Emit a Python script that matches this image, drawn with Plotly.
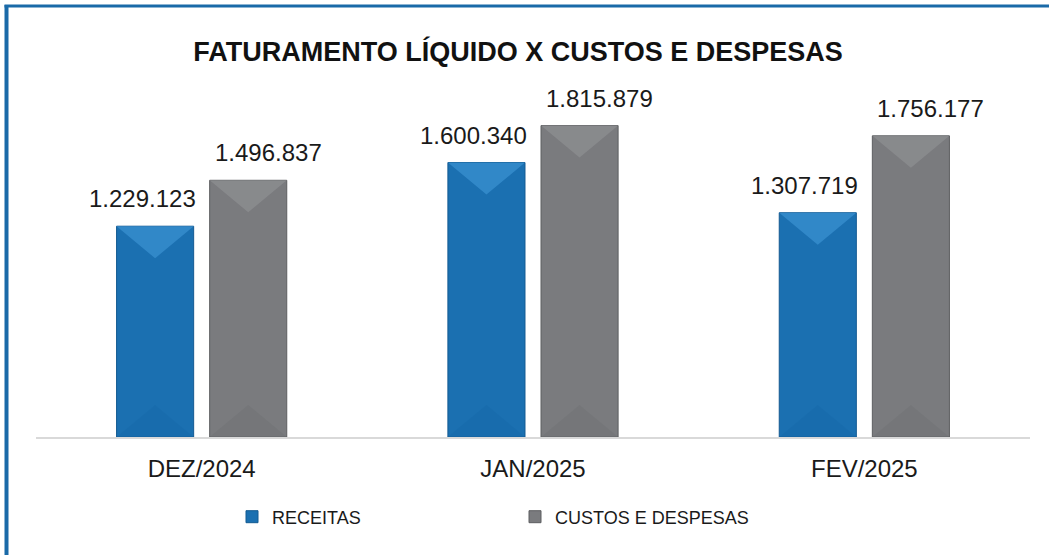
import plotly.graph_objects as go

categories = ["DEZ/2024", "JAN/2025", "FEV/2025"]
receitas = [1229123, 1600340, 1307719]
custos = [1496837, 1815879, 1756177]
series_names = ["RECEITAS", "CUSTOS E DESPESAS"]

W, H = 1049, 555
L, R, T, B = 36, 19, 94, 118
Y_MAX = 2000000
FONT = "Liberation Sans, Arial, sans-serif"

pw = W - L - R
ph = H - T - B

BARGAP = 0.438
GROUPGAP = 0.172

series = [
    dict(name=series_names[0], values=receitas, body="#1b70b1", line="#135a92",
         top="#3a90d0", bottom="#1668a8", label_shift=-13),
    dict(name=series_names[1], values=custos, body="#7a7b7e", line="#5d5e61",
         top="#8e8f92", bottom="#6f7073", label_shift=20),
]

fig = go.Figure()
for s in series:
    fig.add_trace(go.Bar(
        x=categories, y=s["values"], name=s["name"],
        marker=dict(color=s["body"], line=dict(color=s["line"], width=1)),
        hoverinfo="x+y",
    ))

n_series = len(series)
slot = (1 - BARGAP) / n_series
bar_w = slot * (1 - GROUPGAP)
unit_per_px = Y_MAX / ph
depth = 32 * unit_per_px

shapes = []
annotations = []
for si, s in enumerate(series):
    off = -(1 - BARGAP) / 2 + slot * (si + 0.5)
    for ci, v in enumerate(s["values"]):
        c = ci + off
        xl, xr = c - bar_w / 2, c + bar_w / 2
        d = min(depth, v / 2)
        shapes.append(dict(
            type="path", xref="x", yref="y", layer="above",
            path=f"M {xl},{v} L {xr},{v} L {c},{v - d} Z",
            fillcolor=s["top"], line=dict(width=0), opacity=0.75,
        ))
        shapes.append(dict(
            type="path", xref="x", yref="y", layer="above",
            path=f"M {xl},0 L {xr},0 L {c},{d} Z",
            fillcolor=s["bottom"], line=dict(width=0), opacity=0.45,
        ))
        label = f"{v:,}".replace(",", ".")
        annotations.append(dict(
            x=categories[ci], y=v, xref="x", yref="y",
            text=label, showarrow=False,
            xshift=off * pw / len(categories) + s["label_shift"],
            yshift=12, yanchor="bottom",
            font=dict(family=FONT, size=24, color="#1a1a1a"),
        ))

def px_x(p):
    return (p - L) / pw

def px_y(p):
    return (H - B - p) / ph

# blue frame (left and top edges)
shapes.append(dict(type="line", xref="paper", yref="paper",
                   x0=px_x(6.5), x1=px_x(6.5), y0=px_y(5), y1=px_y(H + 5),
                   line=dict(color="#1a6aa8", width=4)))
shapes.append(dict(type="line", xref="paper", yref="paper",
                   x0=px_x(4.5), x1=px_x(W + 5), y0=px_y(6), y1=px_y(6),
                   line=dict(color="#1a6aa8", width=3)))

fig.update_layout(
    width=W, height=H,
    margin=dict(l=L, r=R, t=T, b=B, pad=0),
    paper_bgcolor="white", plot_bgcolor="white",
    separators=",.",
    barmode="group", bargap=BARGAP, bargroupgap=GROUPGAP,
    title=dict(
        text="<b>FATURAMENTO LÍQUIDO X CUSTOS E DESPESAS</b>",
        font=dict(family=FONT, size=27, color="#111111"),
        x=518 / W, xanchor="center", xref="container",
        y=1 - 52 / H, yanchor="middle", yref="container",
    ),
    xaxis=dict(
        showline=True, linecolor="#d9d9d9", linewidth=2,
        ticks="", showgrid=False, ticklabelstandoff=9,
        tickfont=dict(family=FONT, size=24, color="#1a1a1a"),
    ),
    yaxis=dict(range=[0, Y_MAX], visible=False, showgrid=False),
    legend=dict(
        orientation="h", x=px_x(232), xanchor="left",
        y=px_y(517), yanchor="middle",
        font=dict(family=FONT, size=18, color="#1a1a1a"),
        entrywidth=238, entrywidthmode="pixels",
        itemwidth=30,
    ),
    showlegend=True,
    shapes=shapes,
    annotations=annotations,
)

fig.write_html("out.html", config={"displayModeBar": False},
               post_script="document.body.style.margin='0';")
